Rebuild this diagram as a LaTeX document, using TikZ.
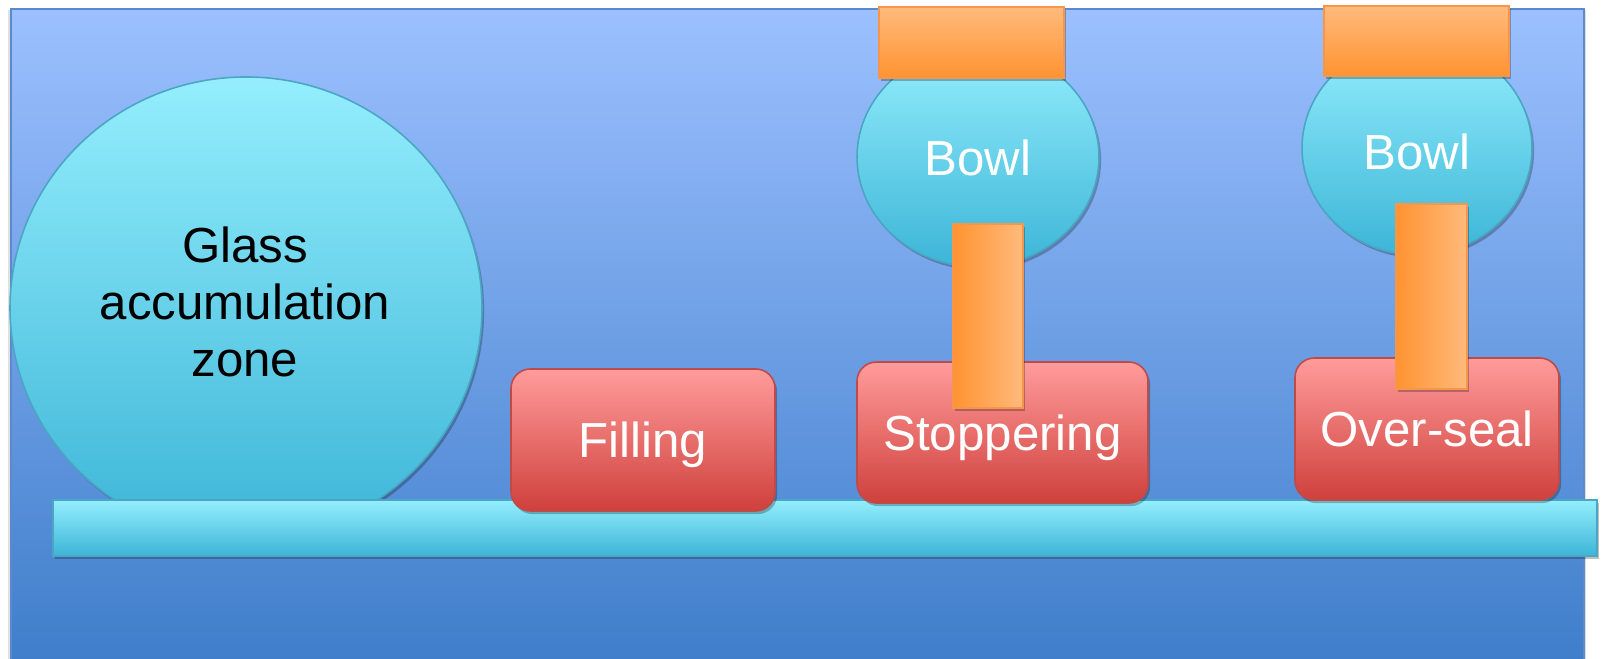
\documentclass[tikz,border=0pt]{standalone}
\usepackage{fontspec}
\setmainfont{Liberation Sans}
\usetikzlibrary{shapes.geometric,shadows}
\definecolor{bgtop}{HTML}{9CC0FF}
\definecolor{bgbot}{HTML}{3E7DCA}
\definecolor{bgedge}{HTML}{5B89CC}
\definecolor{cytop}{HTML}{94EEFD}
\definecolor{cybot}{HTML}{3CB5D7}
\definecolor{cyedge}{HTML}{4AA6C2}
\definecolor{rdtop}{HTML}{FF9C9B}
\definecolor{rdbot}{HTML}{CF403C}
\definecolor{rdedge}{HTML}{BE4B48}
\definecolor{ortop}{HTML}{FFBA7C}
\definecolor{orbot}{HTML}{FF9331}
\definecolor{oredge}{HTML}{F7964A}
\tikzset{
  x=0.01cm, y=-0.01cm,
  shade/.style={drop shadow={shadow xshift=0.6pt, shadow yshift=-0.9pt, opacity=0.25, fill=black}},
  cyanshape/.style={shape=ellipse, inner sep=0pt, draw=cyedge, line width=0.45pt,
    top color=cytop, bottom color=cybot, shade},
  redbox/.style={rectangle, rounded corners=5.5pt, inner sep=0pt, draw=rdedge, line width=0.45pt,
    top color=rdtop, bottom color=rdbot, shade, text=white,
    font=\fontsize{14pt}{16pt}\selectfont, text height=10pt, text depth=0pt},
  lidbox/.style={rectangle, inner sep=0pt, draw=oredge, line width=0.45pt,
    top color=ortop, bottom color=orbot, shade},
  stembox/.style={rectangle, inner sep=0pt, draw=oredge, line width=0.45pt,
    left color=orbot, right color=ortop, shade},
  lbl/.style={font=\fontsize{14pt}{16.2pt}\selectfont, inner sep=0pt},
}
\begin{document}
\begin{tikzpicture}
\useasboundingbox (0,0) rectangle (1601,659);
% background panel
\fill[black, opacity=0.12] (8,10) rectangle (1586,662);
\node[rectangle, inner sep=0pt, draw=bgedge, line width=0.5pt, top color=bgtop, bottom color=bgbot,
  minimum width=1573*0.01cm, minimum height=660*0.01cm, anchor=north west] (panel) at (10,8) {};
% glass accumulation zone
\node[cyanshape, minimum width=472*0.01cm, minimum height=462*0.01cm] (glass) at (246,308) {};
\node[lbl, align=center, text=black] (glasstext) at (245,302) {Glass\\accumulation\\zone};
% conveyor bar
\node[rectangle, inner sep=0pt, draw=cyedge, line width=0.45pt, top color=cytop, bottom color=cybot, shade,
  minimum width=1544*0.01cm, minimum height=56*0.01cm] (bar) at (825,528) {};
% stations
\node[redbox, minimum width=264*0.01cm, minimum height=142*0.01cm] (filling) at (643,440) {Filling};
\node[redbox, minimum width=291*0.01cm, minimum height=141*0.01cm] (stopper) at (1002.5,432.5) {Stoppering};
\node[redbox, minimum width=264*0.01cm, minimum height=142*0.01cm] (overseal) at (1427,429) {Over-seal};
% bowls
\node[cyanshape, minimum width=242*0.01cm, minimum height=220*0.01cm, lbl, text=white] (bowlA) at (978,157) {};
\node[cyanshape, minimum width=230*0.01cm, minimum height=214*0.01cm, lbl, text=white] (bowlB) at (1417,148) {};
\node[lbl, text=white, text height=10pt, text depth=0pt] (bowlAtext) at (978,158) {Bowl};
\node[lbl, text=white, text height=10pt, text depth=0pt] (bowlBtext) at (1417,152) {Bowl};
% lids and stems
\node[lidbox, minimum width=185*0.01cm, minimum height=71*0.01cm] (lidA) at (971.5,42.5) {};
\node[lidbox, minimum width=185*0.01cm, minimum height=70*0.01cm] (lidB) at (1416.5,41) {};
\node[stembox, minimum width=70*0.01cm, minimum height=184*0.01cm] (stemA) at (988,316) {};
\node[stembox, minimum width=71*0.01cm, minimum height=185*0.01cm] (stemB) at (1431.5,296.5) {};
\end{tikzpicture}
\end{document}
